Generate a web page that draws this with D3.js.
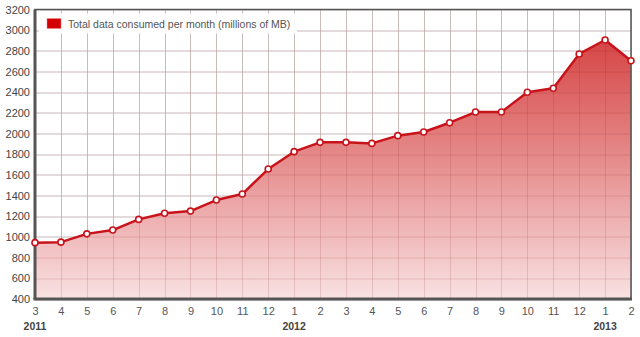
<!DOCTYPE html>
<html>
<head>
<meta charset="utf-8">
<script src="https://cdn.jsdelivr.net/npm/d3@7"></script>
<style>
  body { margin: 0; background: #fff; }
  svg { display: block; font-family: "Liberation Sans", Arial, sans-serif; }
</style>
</head>
<body>
<svg id="chart"></svg>
<script>
// months from 3/2011 to 2/2013
const months = [3, 4, 5, 6, 7, 8, 9, 10, 11, 12, 1, 2, 3, 4, 5, 6, 7, 8, 9, 10, 11, 12, 1, 2];
const years = [2011, 2011, 2011, 2011, 2011, 2011, 2011, 2011, 2011, 2011, 2012, 2012,
  2012, 2012, 2012, 2012, 2012, 2012, 2012, 2012, 2012, 2012, 2013, 2013];
const consumed = [945, 950, 1030, 1067, 1170, 1230, 1250, 1357, 1415, 1657, 1825, 1915,
  1915, 1905, 1980, 2015, 2105, 2208, 2208, 2400, 2438, 2770, 2905, 2705];
const yTicks = d3.range(400, 3201, 200);
const seriesName = 'Total data consumed per month (millions of MB)';

const margin = { top: 9.5, right: 9, bottom: 38, left: 35 };
const width = 640 - margin.left - margin.right;
const height = 337 - margin.top - margin.bottom;

const svg = d3.select('#chart').attr('width', 640).attr('height', 337);
const g = svg.append('g').attr('transform', 'translate(' + margin.left + ',' + margin.top + ')');

const x = d3.scaleLinear().domain([0, months.length - 1]).range([0, width]);
const y = d3.scaleLinear().domain([400, 3200]).range([height, 0]);

const defs = svg.append('defs');
const grad = defs.append('linearGradient')
  .attr('id', 'fill').attr('gradientUnits', 'userSpaceOnUse')
  .attr('x1', 0).attr('y1', y(2905)).attr('x2', 0).attr('y2', height);
grad.append('stop').attr('offset', 0).attr('stop-color', '#d43c3c').attr('stop-opacity', 0.95);
grad.append('stop').attr('offset', 1).attr('stop-color', '#f9e2e3');

function grid(color, opacity) {
  g.append('g').selectAll('line').data(yTicks).join('line')
    .attr('x1', 0).attr('x2', width)
    .attr('y1', d => Math.round(y(d)) + 0.5).attr('y2', d => Math.round(y(d)) + 0.5)
    .attr('stroke', color).attr('stroke-opacity', opacity);
  g.append('g').selectAll('line').data(months).join('line')
    .attr('y1', 0).attr('y2', height)
    .attr('x1', (d, i) => Math.round(x(i)) + 0.5).attr('x2', (d, i) => Math.round(x(i)) + 0.5)
    .attr('stroke', color).attr('stroke-opacity', opacity);
}

grid('#d8d8d8', 1);

// area + line
const area = d3.area().x((d, i) => x(i)).y0(height).y1(d => y(d));
const line = d3.line().x((d, i) => x(i)).y(d => y(d));
g.append('path').datum(consumed).attr('d', area).attr('fill', 'url(#fill)');

// grid over the fill, faint
grid('#8a2a2a', 0.16);

g.append('path').datum(consumed).attr('d', line)
  .attr('fill', 'none').attr('stroke', '#c8131b').attr('stroke-width', 2.5)
  .attr('stroke-linejoin', 'round');

// frame
g.append('rect').attr('x', 0).attr('y', 0).attr('width', width).attr('height', height)
  .attr('fill', 'none').attr('stroke', '#555').attr('stroke-width', 1.5);
g.append('line').attr('x1', 0).attr('x2', 0).attr('y1', 0).attr('y2', height)
  .attr('stroke', '#555').attr('stroke-width', 3);
g.append('line').attr('x1', -1.5).attr('x2', width + 1).attr('y1', height).attr('y2', height)
  .attr('stroke', '#555').attr('stroke-width', 3);

g.append('g').selectAll('circle').data(consumed).join('circle')
  .attr('cx', (d, i) => x(i)).attr('cy', d => y(d)).attr('r', 3)
  .attr('fill', '#fff').attr('stroke', '#c8131b').attr('stroke-width', 1.6);

// y axis labels
const yAxis = d3.axisLeft(y).tickValues(yTicks).tickFormat(d3.format('d'))
  .tickSize(0).tickPadding(5);
const yg = g.append('g').call(yAxis);
yg.select('.domain').remove();
yg.selectAll('text').attr('fill', '#444').attr('font-size', 11);

// x axis labels
const xAxis = d3.axisBottom(x).tickValues(d3.range(months.length))
  .tickFormat(i => months[i]).tickSize(0).tickPadding(8);
const xg = g.append('g').attr('transform', 'translate(0,' + height + ')').call(xAxis);
xg.select('.domain').remove();
xg.selectAll('text').attr('fill', '#555').attr('font-size', 11);

// year labels at january (and first month)
const yearIdx = years.map((yr, i) => i).filter(i => i === 0 || years[i] !== years[i - 1]);
g.append('g').selectAll('text').data(yearIdx).join('text')
  .attr('x', i => x(i)).attr('y', height + 31)
  .attr('text-anchor', 'middle').attr('font-size', 10.5).attr('font-weight', 'bold')
  .attr('fill', '#444').text(i => years[i]);

// legend
const lg = g.append('g').attr('transform', 'translate(4,4)');
lg.append('rect').attr('width', 258).attr('height', 20).attr('fill', '#fff').attr('fill-opacity', 0.9);
lg.append('rect').attr('x', 8).attr('y', 5).attr('width', 14).attr('height', 10)
  .attr('fill', '#d40000').attr('stroke', '#e88').attr('stroke-width', 0.5);
lg.append('text').attr('x', 29).attr('y', 14).attr('font-size', 10.5).attr('fill', '#555')
  .text(seriesName);
</script>
</body>
</html>
